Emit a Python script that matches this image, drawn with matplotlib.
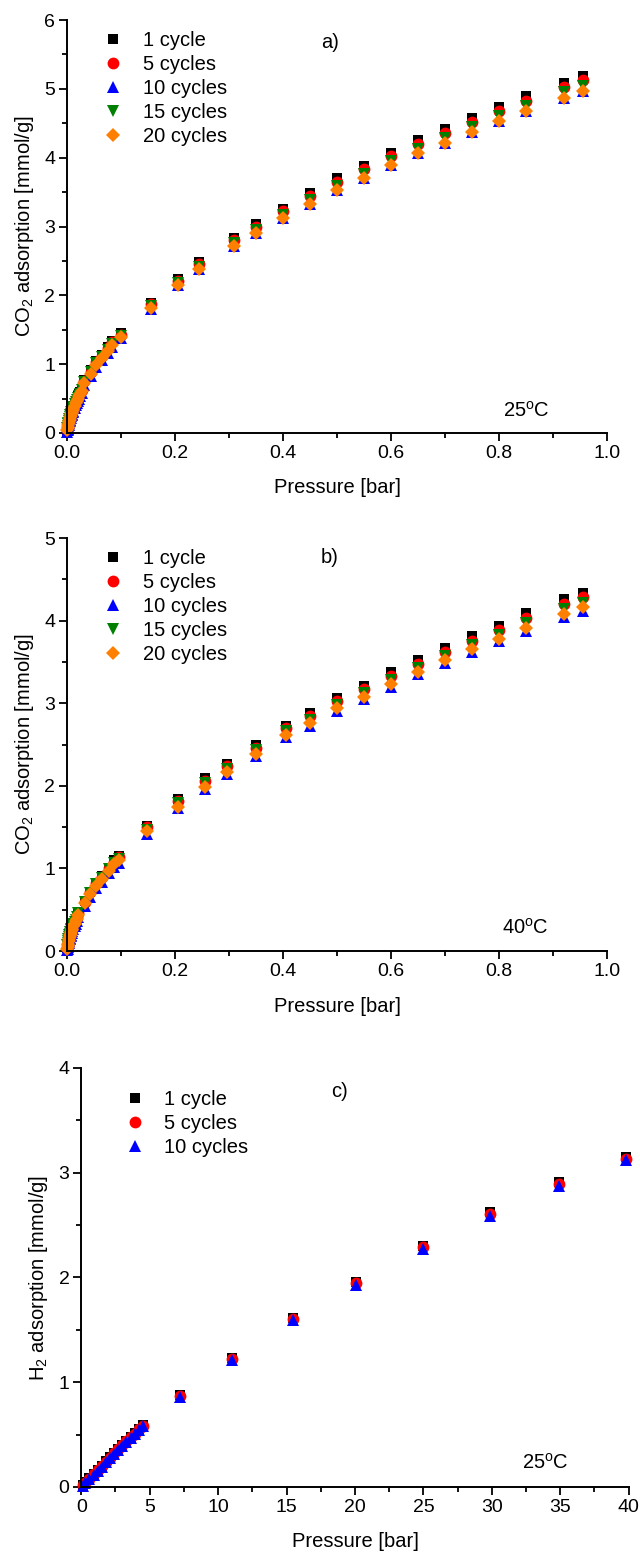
import numpy as np
import matplotlib
matplotlib.use("Agg")
import matplotlib.pyplot as plt
from matplotlib.ticker import MultipleLocator

plt.rcParams['font.family'] = ['Liberation Sans', 'DejaVu Sans']
plt.rcParams['mathtext.fontset'] = 'custom'
plt.rcParams['mathtext.rm'] = 'Liberation Sans'
plt.rcParams['mathtext.it'] = 'Liberation Sans:italic'

# ---- a) CO2 at 25 C ----
p_a = [0.0005, 0.001, 0.0015, 0.002, 0.003, 0.004, 0.005, 0.006, 0.007, 0.008,
       0.009, 0.010, 0.011, 0.012, 0.014, 0.016, 0.018, 0.020, 0.022, 0.024,
       0.027, 0.032, 0.044, 0.054, 0.065, 0.075, 0.084, 0.100,
       0.155, 0.205, 0.245, 0.31, 0.35, 0.40, 0.45, 0.50, 0.55, 0.60,
       0.65, 0.70, 0.75, 0.80, 0.85, 0.92, 0.955]
a_1 = [0.05, 0.08, 0.10, 0.12, 0.15, 0.18, 0.21, 0.24, 0.27, 0.29,
       0.32, 0.34, 0.36, 0.38, 0.42, 0.46, 0.49, 0.53, 0.56, 0.59,
       0.64, 0.77, 0.91, 1.05, 1.14, 1.25, 1.34, 1.45,
       1.89, 2.24, 2.48, 2.84, 3.03, 3.26, 3.48, 3.70, 3.88, 4.07,
       4.26, 4.42, 4.58, 4.74, 4.89, 5.09, 5.19]
a_5 = [0.05, 0.07, 0.10, 0.12, 0.15, 0.18, 0.20, 0.23, 0.26, 0.28,
       0.31, 0.33, 0.35, 0.37, 0.41, 0.45, 0.48, 0.52, 0.55, 0.58,
       0.63, 0.75, 0.89, 1.03, 1.12, 1.23, 1.32, 1.43,
       1.87, 2.21, 2.45, 2.80, 2.99, 3.22, 3.44, 3.65, 3.83, 4.02,
       4.20, 4.36, 4.52, 4.68, 4.83, 5.03, 5.13]
a_10 = [0.02, 0.04, 0.06, 0.08, 0.11, 0.14, 0.17, 0.19, 0.22, 0.24,
        0.26, 0.28, 0.30, 0.32, 0.36, 0.40, 0.44, 0.47, 0.50, 0.53,
        0.58, 0.70, 0.83, 0.96, 1.06, 1.16, 1.25, 1.38,
        1.80, 2.15, 2.38, 2.72, 2.91, 3.12, 3.33, 3.53, 3.71, 3.89,
        4.07, 4.22, 4.38, 4.54, 4.68, 4.87, 4.97]
a_15 = [0.07, 0.10, 0.13, 0.15, 0.18, 0.21, 0.23, 0.26, 0.28, 0.30,
        0.32, 0.34, 0.36, 0.38, 0.42, 0.45, 0.48, 0.51, 0.54, 0.57,
        0.62, 0.74, 0.88, 1.01, 1.11, 1.21, 1.30, 1.41,
        1.84, 2.18, 2.41, 2.76, 2.95, 3.17, 3.38, 3.59, 3.77, 3.95,
        4.13, 4.29, 4.45, 4.61, 4.75, 4.95, 5.04]
a_20 = [0.04, 0.07, 0.09, 0.11, 0.14, 0.17, 0.19, 0.22, 0.25, 0.27,
        0.29, 0.31, 0.33, 0.35, 0.39, 0.43, 0.46, 0.50, 0.53, 0.56,
        0.61, 0.73, 0.86, 0.99, 1.09, 1.19, 1.28, 1.40,
        1.81, 2.15, 2.38, 2.72, 2.91, 3.12, 3.33, 3.53, 3.71, 3.89,
        4.07, 4.22, 4.38, 4.54, 4.68, 4.87, 4.97]

# ---- b) CO2 at 40 C ----
p_b = [0.0005, 0.001, 0.0015, 0.002, 0.003, 0.004, 0.005, 0.006, 0.007, 0.008,
       0.009, 0.010, 0.012, 0.014, 0.016, 0.018, 0.021, 0.033, 0.043, 0.054,
       0.064, 0.077, 0.087, 0.097,
       0.148, 0.206, 0.255, 0.296, 0.35, 0.405, 0.45, 0.50, 0.55, 0.60,
       0.65, 0.70, 0.75, 0.80, 0.85, 0.92, 0.955]
b_1 = [0.04, 0.07, 0.09, 0.11, 0.14, 0.17, 0.19, 0.21, 0.23, 0.25,
       0.27, 0.29, 0.32, 0.35, 0.39, 0.42, 0.47, 0.61, 0.72, 0.83,
       0.91, 1.01, 1.10, 1.15,
       1.52, 1.84, 2.09, 2.27, 2.49, 2.73, 2.88, 3.07, 3.21, 3.38,
       3.53, 3.67, 3.82, 3.94, 4.09, 4.26, 4.34]
b_5 = [0.04, 0.06, 0.08, 0.10, 0.13, 0.16, 0.18, 0.20, 0.22, 0.24,
       0.26, 0.28, 0.31, 0.34, 0.38, 0.41, 0.46, 0.60, 0.71, 0.82,
       0.90, 1.00, 1.08, 1.14,
       1.50, 1.82, 2.06, 2.24, 2.46, 2.70, 2.85, 3.03, 3.17, 3.33,
       3.48, 3.62, 3.76, 3.89, 4.03, 4.20, 4.29]
b_10 = [0.01, 0.03, 0.05, 0.07, 0.10, 0.12, 0.14, 0.16, 0.18, 0.20,
        0.22, 0.24, 0.27, 0.30, 0.33, 0.36, 0.41, 0.55, 0.66, 0.76,
        0.84, 0.94, 1.02, 1.07,
        1.42, 1.73, 1.96, 2.14, 2.36, 2.59, 2.73, 2.91, 3.05, 3.20,
        3.35, 3.49, 3.62, 3.75, 3.88, 4.05, 4.12]
b_15 = [0.07, 0.10, 0.12, 0.14, 0.17, 0.19, 0.21, 0.23, 0.25, 0.27,
        0.28, 0.30, 0.33, 0.35, 0.38, 0.41, 0.46, 0.59, 0.70, 0.81,
        0.89, 0.99, 1.07, 1.12,
        1.47, 1.79, 2.03, 2.21, 2.43, 2.66, 2.80, 2.98, 3.12, 3.28,
        3.43, 3.57, 3.71, 3.83, 3.97, 4.14, 4.21]
b_20 = [0.03, 0.05, 0.07, 0.09, 0.12, 0.15, 0.17, 0.19, 0.21, 0.23,
        0.25, 0.27, 0.30, 0.33, 0.36, 0.39, 0.44, 0.58, 0.69, 0.79,
        0.87, 0.97, 1.05, 1.10,
        1.45, 1.75, 1.99, 2.17, 2.39, 2.62, 2.76, 2.94, 3.08, 3.23,
        3.38, 3.52, 3.66, 3.78, 3.91, 4.08, 4.16]

# ---- c) H2 at 25 C ----
p_c = [0.1, 0.3, 0.6, 0.9, 1.2, 1.5, 1.8, 2.1, 2.4, 2.7, 3.0, 3.3, 3.6, 3.9,
       4.2, 4.5, 7.2, 11.0, 15.5, 20.1, 25.0, 29.9, 34.9, 39.8]
c_1 = [0.02, 0.045, 0.085, 0.125, 0.165, 0.205, 0.245, 0.285, 0.325, 0.365,
       0.405, 0.44, 0.48, 0.515, 0.555, 0.59, 0.88, 1.23, 1.61, 1.96, 2.30,
       2.63, 2.91, 3.15]
c_5 = [0.015, 0.04, 0.08, 0.12, 0.16, 0.20, 0.24, 0.28, 0.32, 0.36,
       0.40, 0.435, 0.475, 0.51, 0.55, 0.585, 0.87, 1.22, 1.60, 1.95, 2.29,
       2.61, 2.89, 3.13]
c_10 = [0.01, 0.035, 0.075, 0.115, 0.155, 0.195, 0.235, 0.275, 0.315, 0.355,
        0.395, 0.43, 0.47, 0.505, 0.545, 0.58, 0.86, 1.21, 1.59, 1.93, 2.27,
        2.59, 2.87, 3.12]

cycle_labels = ['1 cycle', '5 cycles', '10 cycles', '15 cycles', '20 cycles']
colors = ['black', 'red', 'blue', 'green', '#ff8000']
markers = ['s', 'o', '^', 'v', 'D']
msizes = [7.5, 8.5, 9, 9, 7.5]

FS = 14.5

fig = plt.figure(figsize=(6.4, 15.53), dpi=100)


def style_axes(ax, xmax, xmaj, xmin, ymax, fmt):
    ax.set_xlim(0, xmax)
    ax.set_ylim(0, ymax)
    ax.xaxis.set_major_locator(MultipleLocator(xmaj))
    ax.xaxis.set_minor_locator(MultipleLocator(xmin))
    ax.yaxis.set_major_locator(MultipleLocator(1))
    ax.yaxis.set_minor_locator(MultipleLocator(0.5))
    if fmt:
        ax.xaxis.set_major_formatter(fmt)
    for s in ['top', 'right']:
        ax.spines[s].set_visible(False)
    for s in ['left', 'bottom']:
        ax.spines[s].set_linewidth(1.4)
    ax.tick_params(which='major', direction='out', length=5.5, width=1.3,
                   labelsize=14, pad=3)
    ax.tick_params(which='minor', direction='out', length=3.5, width=1.3)


def draw(ax, p, series, n):
    for i in range(n):
        ax.plot(p, series[i], linestyle='none', marker=markers[i],
                color=colors[i], markersize=msizes[i], markeredgewidth=0,
                label=cycle_labels[i], clip_on=False)


def add_legend(ax, x0, y0):
    ax.legend(loc='upper left', bbox_to_anchor=(x0, y0), frameon=False,
              fontsize=FS, handlelength=1.0, handletextpad=0.95,
              labelspacing=0.24, borderaxespad=0.3)


# a)
ax1 = fig.add_axes([0.1047, 0.7212, 0.8438, 0.2659])
draw(ax1, p_a, [a_1, a_5, a_10, a_15, a_20], 5)
style_axes(ax1, 1.0, 0.2, 0.1, 6, '{x:.1f}')
ax1.set_xlabel('Pressure [bar]', fontsize=FS, labelpad=12)
ax1.set_ylabel('CO$_2$ adsorption [mmol/g]', fontsize=FS, labelpad=6)
ax1.text(0.487, 5.67, 'a)', fontsize=FS, ha='center', va='center')
ax1.text(0.85, 0.33, '25$^{\\rm o}$C', fontsize=FS, ha='center', va='center')
add_legend(ax1, 0.041, 1.007)

# b)
ax2 = fig.add_axes([0.1047, 0.3876, 0.8438, 0.2659])
draw(ax2, p_b, [b_1, b_5, b_10, b_15, b_20], 5)
style_axes(ax2, 1.0, 0.2, 0.1, 5, '{x:.1f}')
ax2.set_xlabel('Pressure [bar]', fontsize=FS, labelpad=12)
ax2.set_ylabel('CO$_2$ adsorption [mmol/g]', fontsize=FS, labelpad=6)
ax2.text(0.487, 4.77, 'b)', fontsize=FS, ha='center', va='center')
ax2.text(0.848, 0.28, '40$^{\\rm o}$C', fontsize=FS, ha='center', va='center')
add_legend(ax2, 0.041, 1.007)

# c)
ax3 = fig.add_axes([0.127, 0.0425, 0.8553, 0.2698])
draw(ax3, p_c, [c_1, c_5, c_10], 3)
style_axes(ax3, 40, 5, 2.5, 4, None)
ax3.set_xlabel('Pressure [bar]', fontsize=FS, labelpad=12)
ax3.set_ylabel('H$_2$ adsorption [mmol/g]', fontsize=FS, labelpad=6)
ax3.text(18.9, 3.78, 'c)', fontsize=FS, ha='center', va='center')
ax3.text(33.9, 0.23, '25$^{\\rm o}$C', fontsize=FS, ha='center', va='center')
add_legend(ax3, 0.054, 0.981)

fig.savefig('out.png', dpi=100)
